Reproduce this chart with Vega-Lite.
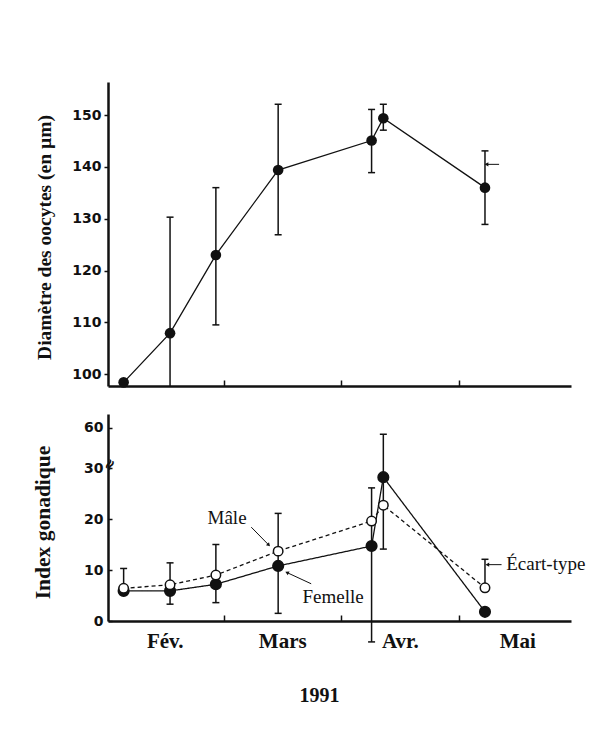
{
  "$schema": "https://vega.github.io/schema/vega-lite/v6.json",
  "background": "white",
  "padding": {"left": 31, "top": 82, "right": 20, "bottom": 20},
  "spacing": 26,
  "datasets": {
    "diam": [
      {"u": 0.15, "val": 98.4, "lo": null, "hi": null},
      {"u": 0.545, "val": 107.9, "lo": 85, "hi": 130.3},
      {"u": 0.935, "val": 123.0, "lo": 109.5, "hi": 136.0},
      {"u": 1.465, "val": 139.4, "lo": 126.9, "hi": 152.1},
      {"u": 2.26, "val": 145.1, "lo": 138.9, "hi": 151.1},
      {"u": 2.36, "val": 149.4, "lo": 147.1, "hi": 152.1},
      {"u": 3.225, "val": 136.0, "lo": 128.9, "hi": 143.1}
    ],
    "gsi": [
      {"sexe": "Femelle", "u": 0.15, "v": 5.9},
      {"sexe": "Femelle", "u": 0.545, "v": 5.9},
      {"sexe": "Femelle", "u": 0.935, "v": 7.2},
      {"sexe": "Femelle", "u": 1.465, "v": 10.8},
      {"sexe": "Femelle", "u": 2.26, "v": 14.7},
      {"sexe": "Femelle", "u": 2.36, "v": 28.2},
      {"sexe": "Femelle", "u": 3.225, "v": 1.8},
      {"sexe": "Mâle", "u": 0.15, "v": 6.4},
      {"sexe": "Mâle", "u": 0.545, "v": 7.1},
      {"sexe": "Mâle", "u": 0.935, "v": 9.0},
      {"sexe": "Mâle", "u": 1.465, "v": 13.7},
      {"sexe": "Mâle", "u": 2.26, "v": 19.6},
      {"sexe": "Mâle", "u": 2.36, "v": 22.7},
      {"sexe": "Mâle", "u": 3.225, "v": 6.5}
    ],
    "gsiErr": [
      {"u": 0.15, "lo": 6.4, "hi": 10.3},
      {"u": 0.545, "lo": 3.3, "hi": 11.4},
      {"u": 0.935, "lo": 3.6, "hi": 15.0},
      {"u": 1.465, "lo": 1.5, "hi": 21.1},
      {"u": 2.26, "lo": -4.1, "hi": 26.1},
      {"u": 2.36, "lo": 14.1, "hi": 55},
      {"u": 3.225, "lo": 6.5, "hi": 12.1}
    ],
    "notes": [
      {"label": "Mâle", "u": 0.864, "v": 19.1},
      {"label": "Femelle", "u": 1.672, "v": 3.6},
      {"label": "Écart-type", "u": 3.406, "v": 10.0}
    ],
    "arrows": [
      {"note": "Mâle", "u": 1.236, "v": 18.4, "u2": 1.385, "v2": 14.9},
      {"note": "Femelle", "u": 1.746, "v": 7.3, "u2": 1.54, "v2": 9.5},
      {"note": "Écart-type", "u": 3.366, "v": 11.05, "u2": 3.245, "v2": 11.05}
    ],
    "breaks": [
      {"u": 0.03, "v": 32.5}
    ]
  },
  "vconcat": [
    {
      "width": 463,
      "height": 304,
      "data": {"name": "diam"},
      "layer": [
        {
          "mark": {"type": "line", "color": "#111", "strokeWidth": 1.3},
          "encoding": {
            "x": {"field": "u", "type": "quantitative",
                  "scale": {"domain": [0.017, 3.957], "nice": false, "zero": false},
                  "axis": {"values": [1, 2, 3], "labels": false, "tickSize": -6, "title": null}},
            "y": {"field": "val", "type": "quantitative",
                  "scale": {"domain": [97.7, 156.4], "nice": false, "zero": false},
                  "axis": {"values": [100, 110, 120, 130, 140, 150], "title": "Diamètre des oocytes (en µm)",
                           "titleX": -54, "titleY": 155, "titleFontSize": 19.5, "tickSize": 4, "labelPadding": 3}}
          }
        },
        {
          "mark": {"type": "rule", "color": "#111", "strokeWidth": 1.5, "clip": true},
          "encoding": {
            "x": {"field": "u", "type": "quantitative"},
            "y": {"field": "lo", "type": "quantitative"},
            "y2": {"field": "hi"}
          }
        },
        {
          "mark": {"type": "tick", "orient": "horizontal", "size": 7, "thickness": 1.5, "color": "#111", "clip": true, "opacity": 1},
          "encoding": {
            "x": {"field": "u", "type": "quantitative"},
            "y": {"field": "lo", "type": "quantitative"}
          }
        },
        {
          "mark": {"type": "tick", "orient": "horizontal", "size": 7, "thickness": 1.5, "color": "#111", "clip": true, "opacity": 1},
          "encoding": {
            "x": {"field": "u", "type": "quantitative"},
            "y": {"field": "hi", "type": "quantitative"}
          }
        },
        {
          "mark": {"type": "point", "filled": true, "size": 113, "color": "#111", "opacity": 1},
          "encoding": {
            "x": {"field": "u", "type": "quantitative"},
            "y": {"field": "val", "type": "quantitative"}
          }
        },
        {
          "data": {"values": [{"u": 3.345, "v": 140.5, "u2": 3.232}]},
          "mark": {"type": "rule", "color": "#111", "strokeWidth": 1},
          "encoding": {
            "x": {"field": "u", "type": "quantitative"},
            "x2": {"field": "u2"},
            "y": {"field": "v", "type": "quantitative"}
          }
        },
        {
          "data": {"values": [{"u": 3.238, "v": 140.5}]},
          "mark": {"type": "point", "shape": "triangle-up", "angle": 270, "filled": true, "size": 18, "color": "#111", "opacity": 1},
          "encoding": {
            "x": {"field": "u", "type": "quantitative"},
            "y": {"field": "v", "type": "quantitative"}
          }
        }
      ]
    },
    {
      "width": 463,
      "height": 207,
      "layer": [
        {
          "data": {"name": "gsi"},
          "mark": {"type": "line", "color": "#111", "strokeWidth": 1.3},
          "encoding": {
            "x": {"field": "u", "type": "quantitative",
                  "scale": {"domain": [0.017, 3.957], "nice": false, "zero": false},
                  "axis": {"values": [0.5, 1, 1.5, 2, 2.5, 3, 3.5],
                           "labelExpr": "datum.value == 0.5 ? 'Fév.' : datum.value == 1.5 ? 'Mars' : datum.value == 2.5 ? 'Avr.' : datum.value == 3.5 ? 'Mai' : ''",
                           "tickSize": -6,
                           "tickOpacity": {"condition": {"test": "datum.value % 1 !== 0", "value": 0}, "value": 1},
                           "labelFont": "Liberation Serif", "labelFontSize": 21, "labelFontWeight": "bold",
                           "labelPadding": 15, "labelOverlap": false,
                           "title": "1991", "titleFontSize": 20, "titleX": 211, "titleY": 80,
                           "titleAlign": "center", "titleBaseline": "alphabetic"}},
            "y": {"field": "v", "type": "quantitative",
                  "scale": {"domain": [0, 30, 70], "range": [207, 54, 0], "nice": false, "zero": false},
                  "axis": {"values": [0, 10, 20, 30, 60], "title": "Index gonadique",
                           "titleX": -54, "titleY": 108, "titleFontSize": 21.5, "tickSize": -4, "labelPadding": 9}},
            "strokeDash": {"field": "sexe", "type": "nominal",
                           "scale": {"domain": ["Femelle", "Mâle"], "range": [[1, 0], [4, 3]]}, "legend": null}
          }
        },
        {
          "data": {"name": "breaks"},
          "mark": {"type": "text", "text": "≈", "angle": 300, "font": "DejaVu Sans", "fontWeight": "bold", "fontSize": 15, "align": "center", "baseline": "middle", "color": "#111"},
          "encoding": {
            "x": {"field": "u", "type": "quantitative"},
            "y": {"field": "v", "type": "quantitative"}
          }
        },
        {
          "data": {"name": "gsiErr"},
          "mark": {"type": "rule", "color": "#111", "strokeWidth": 1.5},
          "encoding": {
            "x": {"field": "u", "type": "quantitative"},
            "y": {"field": "lo", "type": "quantitative"},
            "y2": {"field": "hi"}
          }
        },
        {
          "data": {"name": "gsiErr"},
          "mark": {"type": "tick", "orient": "horizontal", "size": 7, "thickness": 1.5, "color": "#111", "opacity": 1},
          "encoding": {
            "x": {"field": "u", "type": "quantitative"},
            "y": {"field": "lo", "type": "quantitative"}
          }
        },
        {
          "data": {"name": "gsiErr"},
          "mark": {"type": "tick", "orient": "horizontal", "size": 7, "thickness": 1.5, "color": "#111", "opacity": 1},
          "encoding": {
            "x": {"field": "u", "type": "quantitative"},
            "y": {"field": "hi", "type": "quantitative"}
          }
        },
        {
          "data": {"name": "gsi"},
          "mark": {"type": "point", "filled": true, "stroke": "#111", "strokeWidth": 1.5, "opacity": 1},
          "encoding": {
            "x": {"field": "u", "type": "quantitative"},
            "y": {"field": "v", "type": "quantitative"},
            "fill": {"field": "sexe", "type": "nominal",
                     "scale": {"domain": ["Femelle", "Mâle"], "range": ["#111", "white"]}, "legend": null},
            "size": {"field": "sexe", "type": "nominal",
                     "scale": {"domain": ["Femelle", "Mâle"], "range": [113, 90]}, "legend": null}
          }
        },
        {
          "data": {"name": "notes"},
          "mark": {"type": "text", "align": "left", "baseline": "alphabetic", "font": "Liberation Serif", "fontSize": 19, "color": "#111"},
          "encoding": {
            "x": {"field": "u", "type": "quantitative"},
            "y": {"field": "v", "type": "quantitative"},
            "text": {"field": "label"}
          }
        },
        {
          "data": {"name": "arrows"},
          "mark": {"type": "rule", "color": "#111", "strokeWidth": 1},
          "encoding": {
            "x": {"field": "u", "type": "quantitative"},
            "x2": {"field": "u2"},
            "y": {"field": "v", "type": "quantitative"},
            "y2": {"field": "v2"}
          }
        },
        {
          "data": {"name": "arrows"},
          "transform": [{"filter": "datum.note == 'Mâle'"}],
          "mark": {"type": "point", "shape": "triangle-up", "angle": 136, "filled": true, "size": 18, "color": "#111", "opacity": 1},
          "encoding": {
            "x": {"field": "u2", "type": "quantitative"},
            "y": {"field": "v2", "type": "quantitative"}
          }
        },
        {
          "data": {"name": "arrows"},
          "transform": [{"filter": "datum.note == 'Femelle'"}],
          "mark": {"type": "point", "shape": "triangle-up", "angle": 295, "filled": true, "size": 18, "color": "#111", "opacity": 1},
          "encoding": {
            "x": {"field": "u2", "type": "quantitative"},
            "y": {"field": "v2", "type": "quantitative"}
          }
        },
        {
          "data": {"name": "arrows"},
          "transform": [{"filter": "datum.note == 'Écart-type'"}],
          "mark": {"type": "point", "shape": "triangle-up", "angle": 270, "filled": true, "size": 18, "color": "#111", "opacity": 1},
          "encoding": {
            "x": {"field": "u2", "type": "quantitative"},
            "y": {"field": "v2", "type": "quantitative"}
          }
        }
      ]
    }
  ],
  "config": {
    "view": {"stroke": null},
    "axis": {
      "domainColor": "#111", "domainWidth": 2.5, "tickColor": "#111", "tickWidth": 1.5,
      "labelColor": "#111", "labelFont": "DejaVu Sans", "labelFontWeight": "bold", "labelFontSize": 14,
      "titleFont": "Liberation Serif", "titleFontWeight": "bold", "titleFontSize": 19, "titleColor": "#111",
      "grid": false, "labelFlush": false
    }
  }
}
